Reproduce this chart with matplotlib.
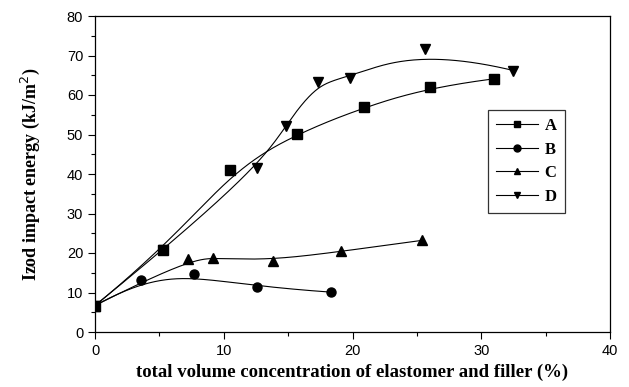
import numpy as np
import matplotlib
matplotlib.use("Agg")
import matplotlib.pyplot as plt
from matplotlib.ticker import MultipleLocator

# Data
A_x = [0, 5.3, 10.5, 15.7, 20.9, 26.0, 31.0]
A_y = [6.7, 20.8, 40.9, 50.2, 57.0, 62.0, 64.1]
B_x = [0, 3.6, 7.7, 12.6, 18.3]
B_y = [6.7, 13.1, 14.6, 11.4, 10.1]
C_x = [0, 7.2, 9.2, 13.8, 19.1, 25.4]
C_y = [6.7, 18.5, 18.8, 18.0, 20.4, 23.2]
D_x = [0, 5.3, 12.6, 14.8, 17.3, 19.8, 25.6, 32.5]
D_y = [6.7, 20.8, 41.4, 52.2, 63.2, 64.4, 71.6, 66.2]
labels = ["A", "B", "C", "D"]
markers = ["s", "o", "^", "v"]


def bspline(x, y, n=400, deg=3):
    P = np.column_stack([x, y]).astype(float)
    k = len(P)
    p = min(deg, k - 1)
    nk = k - p
    knots = np.concatenate([np.zeros(p), np.arange(nk + 1), np.full(p, nk)]).astype(float)
    ts = np.linspace(0, nk, n)
    out = []
    for t in ts:
        s = int(np.clip(np.searchsorted(knots, t, side="right") - 1, p, k - 1))
        d = [P[j + s - p].copy() for j in range(p + 1)]
        for r in range(1, p + 1):
            for j in range(p, r - 1, -1):
                i = j + s - p
                den = knots[i + p + 1 - r] - knots[i]
                a = 0.0 if den == 0 else (t - knots[i]) / den
                d[j] = (1 - a) * d[j - 1] + a * d[j]
        out.append(d[p])
    out = np.array(out)
    return out[:, 0], out[:, 1]


fig = plt.figure(figsize=(6.29, 3.87), dpi=100)
ax = fig.add_axes([95 / 629, 1 - 332 / 387, 515 / 629, 316 / 387])

series = [(A_x, A_y), (B_x, B_y), (C_x, C_y), (D_x, D_y)]
for (x, y), lab, mk in zip(series, labels, markers):
    xs, ys = bspline(x, y)
    ax.plot(xs, ys, color="black", lw=0.8)
    ax.plot(x, y, linestyle="none", marker=mk, color="black", ms=6.5)
    ax.plot([], [], color="black", lw=0.8, marker=mk, ms=5, label=lab)

ax.set_xlim(0, 40)
ax.set_ylim(0, 80)
ax.xaxis.set_major_locator(MultipleLocator(10))
ax.xaxis.set_minor_locator(MultipleLocator(5))
ax.yaxis.set_major_locator(MultipleLocator(10))
ax.yaxis.set_minor_locator(MultipleLocator(5))
ax.tick_params(which="both", direction="out", top=False, right=False,
               labelsize=10.5, width=0.8)
ax.tick_params(which="major", length=5)
ax.tick_params(which="minor", length=3)
for lbl in ax.get_xticklabels() + ax.get_yticklabels():
    lbl.set_fontfamily("Liberation Sans")
for s in ax.spines.values():
    s.set_linewidth(0.9)

ax.set_xlabel("total volume concentration of elastomer and filler (%)",
              fontfamily="Liberation Serif", fontweight="bold", fontsize=13.5,
              labelpad=4)
ax.set_ylabel("Izod impact energy (kJ/m$^2$)",
              fontfamily="Liberation Serif", fontweight="bold", fontsize=13,
              labelpad=18)

leg = ax.legend(loc="upper left", bbox_to_anchor=(393 / 515, (332 - 110) / 316),
                borderaxespad=0,
                frameon=True, fancybox=False, edgecolor="black",
                prop={"family": "Liberation Serif", "weight": "bold", "size": 12},
                handlelength=2.5, handletextpad=0.4, labelspacing=0.45,
                borderpad=0.5)
leg.get_frame().set_linewidth(0.9)

fig.savefig("out.png", dpi=100)
